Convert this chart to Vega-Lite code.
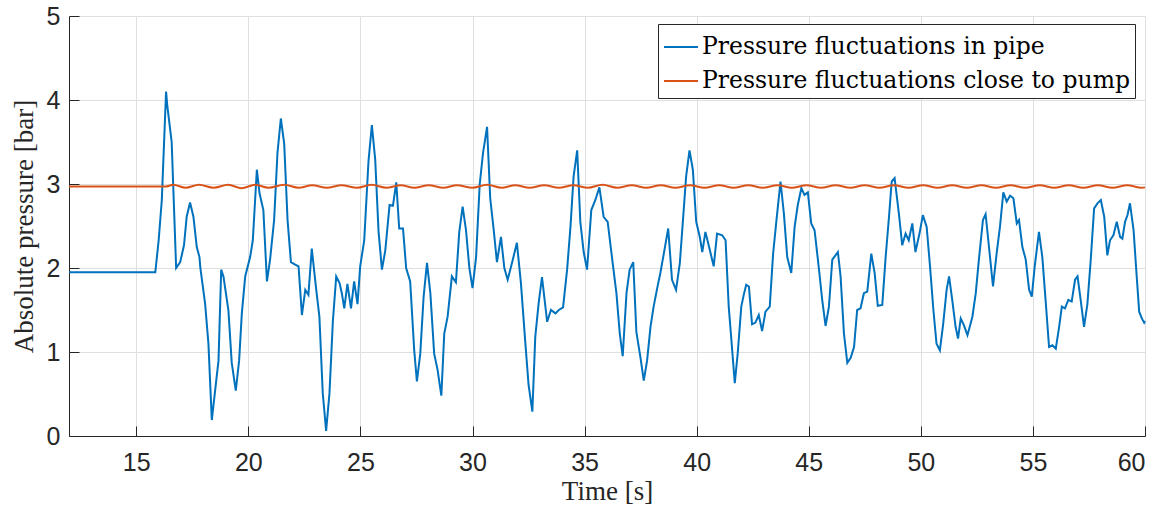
{
  "$schema": "https://vega.github.io/schema/vega-lite/v6.json",
  "autosize": "none",
  "width": 1076,
  "height": 420,
  "padding": {"left": 69, "top": 16, "right": 20, "bottom": 75},
  "background": "white",
  "config": {
    "view": {"stroke": null},
    "axis": {
      "domainColor": "#262626",
      "domainWidth": 1,
      "tickColor": "#262626",
      "tickSize": -10,
      "tickWidth": 1,
      "gridColor": "#dfdfdf",
      "gridWidth": 1,
      "labelFont": "Liberation Sans",
      "labelFontSize": 25,
      "labelColor": "#262626",
      "titleFont": "Liberation Serif",
      "titleFontSize": 27,
      "titleFontWeight": "normal",
      "titleColor": "#262626"
    }
  },
  "data": {
    "values": [
      {"t": 12, "p": 1.95, "s": "pipe"},
      {"t": 15.85, "p": 1.95, "s": "pipe"},
      {"t": 16.0, "p": 2.33, "s": "pipe"},
      {"t": 16.14, "p": 2.81, "s": "pipe"},
      {"t": 16.33, "p": 4.10, "s": "pipe"},
      {"t": 16.39, "p": 3.92, "s": "pipe"},
      {"t": 16.58, "p": 3.50, "s": "pipe"},
      {"t": 16.78, "p": 2.0, "s": "pipe"},
      {"t": 16.96, "p": 2.07, "s": "pipe"},
      {"t": 17.13, "p": 2.27, "s": "pipe"},
      {"t": 17.25, "p": 2.61, "s": "pipe"},
      {"t": 17.4, "p": 2.78, "s": "pipe"},
      {"t": 17.55, "p": 2.61, "s": "pipe"},
      {"t": 17.7, "p": 2.25, "s": "pipe"},
      {"t": 17.82, "p": 2.13, "s": "pipe"},
      {"t": 17.86, "p": 2.0, "s": "pipe"},
      {"t": 18.07, "p": 1.58, "s": "pipe"},
      {"t": 18.22, "p": 1.10, "s": "pipe"},
      {"t": 18.37, "p": 0.19, "s": "pipe"},
      {"t": 18.67, "p": 0.90, "s": "pipe"},
      {"t": 18.79, "p": 1.98, "s": "pipe"},
      {"t": 18.89, "p": 1.90, "s": "pipe"},
      {"t": 19.11, "p": 1.5, "s": "pipe"},
      {"t": 19.26, "p": 0.87, "s": "pipe"},
      {"t": 19.44, "p": 0.54, "s": "pipe"},
      {"t": 19.59, "p": 0.90, "s": "pipe"},
      {"t": 19.71, "p": 1.46, "s": "pipe"},
      {"t": 19.86, "p": 1.90, "s": "pipe"},
      {"t": 20.08, "p": 2.13, "s": "pipe"},
      {"t": 20.2, "p": 2.33, "s": "pipe"},
      {"t": 20.38, "p": 3.17, "s": "pipe"},
      {"t": 20.5, "p": 2.89, "s": "pipe"},
      {"t": 20.67, "p": 2.69, "s": "pipe"},
      {"t": 20.83, "p": 1.84, "s": "pipe"},
      {"t": 20.97, "p": 2.10, "s": "pipe"},
      {"t": 21.15, "p": 2.57, "s": "pipe"},
      {"t": 21.3, "p": 3.37, "s": "pipe"},
      {"t": 21.45, "p": 3.78, "s": "pipe"},
      {"t": 21.6, "p": 3.48, "s": "pipe"},
      {"t": 21.75, "p": 2.57, "s": "pipe"},
      {"t": 21.9, "p": 2.07, "s": "pipe"},
      {"t": 22.09, "p": 2.04, "s": "pipe"},
      {"t": 22.24, "p": 2.02, "s": "pipe"},
      {"t": 22.39, "p": 1.44, "s": "pipe"},
      {"t": 22.54, "p": 1.74, "s": "pipe"},
      {"t": 22.68, "p": 1.68, "s": "pipe"},
      {"t": 22.83, "p": 2.23, "s": "pipe"},
      {"t": 23.03, "p": 1.74, "s": "pipe"},
      {"t": 23.17, "p": 1.42, "s": "pipe"},
      {"t": 23.32, "p": 0.51, "s": "pipe"},
      {"t": 23.47, "p": 0.06, "s": "pipe"},
      {"t": 23.62, "p": 0.51, "s": "pipe"},
      {"t": 23.77, "p": 1.36, "s": "pipe"},
      {"t": 23.92, "p": 1.90, "s": "pipe"},
      {"t": 24.07, "p": 1.82, "s": "pipe"},
      {"t": 24.17, "p": 1.70, "s": "pipe"},
      {"t": 24.28, "p": 1.52, "s": "pipe"},
      {"t": 24.42, "p": 1.81, "s": "pipe"},
      {"t": 24.58, "p": 1.52, "s": "pipe"},
      {"t": 24.72, "p": 1.84, "s": "pipe"},
      {"t": 24.87, "p": 1.57, "s": "pipe"},
      {"t": 24.99, "p": 2.02, "s": "pipe"},
      {"t": 25.17, "p": 2.33, "s": "pipe"},
      {"t": 25.36, "p": 3.27, "s": "pipe"},
      {"t": 25.51, "p": 3.70, "s": "pipe"},
      {"t": 25.66, "p": 3.29, "s": "pipe"},
      {"t": 25.81, "p": 2.43, "s": "pipe"},
      {"t": 25.96, "p": 1.98, "s": "pipe"},
      {"t": 26.11, "p": 2.21, "s": "pipe"},
      {"t": 26.18, "p": 2.41, "s": "pipe"},
      {"t": 26.3, "p": 2.75, "s": "pipe"},
      {"t": 26.45, "p": 2.74, "s": "pipe"},
      {"t": 26.6, "p": 3.02, "s": "pipe"},
      {"t": 26.73, "p": 2.47, "s": "pipe"},
      {"t": 26.9, "p": 2.47, "s": "pipe"},
      {"t": 27.04, "p": 2.0, "s": "pipe"},
      {"t": 27.22, "p": 1.84, "s": "pipe"},
      {"t": 27.4, "p": 1.02, "s": "pipe"},
      {"t": 27.52, "p": 0.65, "s": "pipe"},
      {"t": 27.67, "p": 0.98, "s": "pipe"},
      {"t": 27.82, "p": 1.66, "s": "pipe"},
      {"t": 27.97, "p": 2.06, "s": "pipe"},
      {"t": 28.12, "p": 1.70, "s": "pipe"},
      {"t": 28.29, "p": 0.98, "s": "pipe"},
      {"t": 28.44, "p": 0.79, "s": "pipe"},
      {"t": 28.61, "p": 0.48, "s": "pipe"},
      {"t": 28.74, "p": 1.22, "s": "pipe"},
      {"t": 28.89, "p": 1.42, "s": "pipe"},
      {"t": 29.08, "p": 1.90, "s": "pipe"},
      {"t": 29.26, "p": 1.83, "s": "pipe"},
      {"t": 29.41, "p": 2.43, "s": "pipe"},
      {"t": 29.56, "p": 2.73, "s": "pipe"},
      {"t": 29.71, "p": 2.45, "s": "pipe"},
      {"t": 29.86, "p": 2.0, "s": "pipe"},
      {"t": 30.0, "p": 1.76, "s": "pipe"},
      {"t": 30.16, "p": 2.13, "s": "pipe"},
      {"t": 30.32, "p": 2.99, "s": "pipe"},
      {"t": 30.47, "p": 3.37, "s": "pipe"},
      {"t": 30.65, "p": 3.68, "s": "pipe"},
      {"t": 30.79, "p": 2.83, "s": "pipe"},
      {"t": 30.94, "p": 2.47, "s": "pipe"},
      {"t": 31.09, "p": 2.07, "s": "pipe"},
      {"t": 31.27, "p": 2.37, "s": "pipe"},
      {"t": 31.42, "p": 2.0, "s": "pipe"},
      {"t": 31.57, "p": 1.86, "s": "pipe"},
      {"t": 31.8, "p": 2.10, "s": "pipe"},
      {"t": 31.98, "p": 2.30, "s": "pipe"},
      {"t": 32.16, "p": 1.82, "s": "pipe"},
      {"t": 32.36, "p": 1.10, "s": "pipe"},
      {"t": 32.5, "p": 0.61, "s": "pipe"},
      {"t": 32.67, "p": 0.29, "s": "pipe"},
      {"t": 32.8, "p": 1.18, "s": "pipe"},
      {"t": 32.95, "p": 1.58, "s": "pipe"},
      {"t": 33.1, "p": 1.89, "s": "pipe"},
      {"t": 33.33, "p": 1.36, "s": "pipe"},
      {"t": 33.5, "p": 1.5, "s": "pipe"},
      {"t": 33.7, "p": 1.46, "s": "pipe"},
      {"t": 33.85, "p": 1.5, "s": "pipe"},
      {"t": 34.04, "p": 1.53, "s": "pipe"},
      {"t": 34.22, "p": 1.98, "s": "pipe"},
      {"t": 34.37, "p": 2.49, "s": "pipe"},
      {"t": 34.51, "p": 3.09, "s": "pipe"},
      {"t": 34.67, "p": 3.40, "s": "pipe"},
      {"t": 34.81, "p": 2.55, "s": "pipe"},
      {"t": 34.96, "p": 2.19, "s": "pipe"},
      {"t": 35.11, "p": 1.98, "s": "pipe"},
      {"t": 35.3, "p": 2.69, "s": "pipe"},
      {"t": 35.48, "p": 2.81, "s": "pipe"},
      {"t": 35.66, "p": 2.96, "s": "pipe"},
      {"t": 35.85, "p": 2.61, "s": "pipe"},
      {"t": 36.03, "p": 2.55, "s": "pipe"},
      {"t": 36.23, "p": 2.11, "s": "pipe"},
      {"t": 36.42, "p": 1.70, "s": "pipe"},
      {"t": 36.57, "p": 1.22, "s": "pipe"},
      {"t": 36.7, "p": 0.95, "s": "pipe"},
      {"t": 36.87, "p": 1.70, "s": "pipe"},
      {"t": 37.01, "p": 1.98, "s": "pipe"},
      {"t": 37.17, "p": 2.07, "s": "pipe"},
      {"t": 37.31, "p": 1.24, "s": "pipe"},
      {"t": 37.49, "p": 0.94, "s": "pipe"},
      {"t": 37.64, "p": 0.66, "s": "pipe"},
      {"t": 37.79, "p": 0.90, "s": "pipe"},
      {"t": 37.94, "p": 1.30, "s": "pipe"},
      {"t": 38.08, "p": 1.54, "s": "pipe"},
      {"t": 38.24, "p": 1.76, "s": "pipe"},
      {"t": 38.38, "p": 1.94, "s": "pipe"},
      {"t": 38.56, "p": 2.21, "s": "pipe"},
      {"t": 38.73, "p": 2.47, "s": "pipe"},
      {"t": 38.9, "p": 1.86, "s": "pipe"},
      {"t": 39.08, "p": 1.74, "s": "pipe"},
      {"t": 39.25, "p": 2.06, "s": "pipe"},
      {"t": 39.4, "p": 2.61, "s": "pipe"},
      {"t": 39.53, "p": 3.09, "s": "pipe"},
      {"t": 39.68, "p": 3.40, "s": "pipe"},
      {"t": 39.83, "p": 3.17, "s": "pipe"},
      {"t": 39.98, "p": 2.55, "s": "pipe"},
      {"t": 40.14, "p": 2.37, "s": "pipe"},
      {"t": 40.25, "p": 2.19, "s": "pipe"},
      {"t": 40.39, "p": 2.43, "s": "pipe"},
      {"t": 40.59, "p": 2.21, "s": "pipe"},
      {"t": 40.76, "p": 2.02, "s": "pipe"},
      {"t": 40.91, "p": 2.41, "s": "pipe"},
      {"t": 41.14, "p": 2.39, "s": "pipe"},
      {"t": 41.29, "p": 2.33, "s": "pipe"},
      {"t": 41.43, "p": 1.54, "s": "pipe"},
      {"t": 41.55, "p": 1.14, "s": "pipe"},
      {"t": 41.7, "p": 0.63, "s": "pipe"},
      {"t": 41.83, "p": 0.98, "s": "pipe"},
      {"t": 41.99, "p": 1.54, "s": "pipe"},
      {"t": 42.1, "p": 1.68, "s": "pipe"},
      {"t": 42.21, "p": 1.80, "s": "pipe"},
      {"t": 42.33, "p": 1.78, "s": "pipe"},
      {"t": 42.47, "p": 1.33, "s": "pipe"},
      {"t": 42.62, "p": 1.35, "s": "pipe"},
      {"t": 42.77, "p": 1.44, "s": "pipe"},
      {"t": 42.92, "p": 1.25, "s": "pipe"},
      {"t": 43.07, "p": 1.48, "s": "pipe"},
      {"t": 43.26, "p": 1.54, "s": "pipe"},
      {"t": 43.41, "p": 2.17, "s": "pipe"},
      {"t": 43.56, "p": 2.57, "s": "pipe"},
      {"t": 43.74, "p": 3.03, "s": "pipe"},
      {"t": 43.89, "p": 2.65, "s": "pipe"},
      {"t": 44.04, "p": 2.13, "s": "pipe"},
      {"t": 44.22, "p": 1.94, "s": "pipe"},
      {"t": 44.37, "p": 2.49, "s": "pipe"},
      {"t": 44.51, "p": 2.75, "s": "pipe"},
      {"t": 44.67, "p": 2.95, "s": "pipe"},
      {"t": 44.81, "p": 2.87, "s": "pipe"},
      {"t": 44.96, "p": 2.90, "s": "pipe"},
      {"t": 45.11, "p": 2.53, "s": "pipe"},
      {"t": 45.26, "p": 2.45, "s": "pipe"},
      {"t": 45.45, "p": 2.0, "s": "pipe"},
      {"t": 45.6, "p": 1.62, "s": "pipe"},
      {"t": 45.75, "p": 1.31, "s": "pipe"},
      {"t": 45.9, "p": 1.54, "s": "pipe"},
      {"t": 46.05, "p": 2.10, "s": "pipe"},
      {"t": 46.19, "p": 2.15, "s": "pipe"},
      {"t": 46.3, "p": 2.19, "s": "pipe"},
      {"t": 46.42, "p": 1.90, "s": "pipe"},
      {"t": 46.57, "p": 1.22, "s": "pipe"},
      {"t": 46.72, "p": 0.87, "s": "pipe"},
      {"t": 46.87, "p": 0.93, "s": "pipe"},
      {"t": 47.02, "p": 1.06, "s": "pipe"},
      {"t": 47.16, "p": 1.50, "s": "pipe"},
      {"t": 47.31, "p": 1.52, "s": "pipe"},
      {"t": 47.46, "p": 1.70, "s": "pipe"},
      {"t": 47.61, "p": 1.72, "s": "pipe"},
      {"t": 47.79, "p": 2.17, "s": "pipe"},
      {"t": 47.94, "p": 1.94, "s": "pipe"},
      {"t": 48.08, "p": 1.55, "s": "pipe"},
      {"t": 48.28, "p": 1.56, "s": "pipe"},
      {"t": 48.43, "p": 2.13, "s": "pipe"},
      {"t": 48.58, "p": 2.61, "s": "pipe"},
      {"t": 48.7, "p": 3.03, "s": "pipe"},
      {"t": 48.83, "p": 3.07, "s": "pipe"},
      {"t": 49.02, "p": 2.65, "s": "pipe"},
      {"t": 49.17, "p": 2.27, "s": "pipe"},
      {"t": 49.32, "p": 2.41, "s": "pipe"},
      {"t": 49.46, "p": 2.33, "s": "pipe"},
      {"t": 49.62, "p": 2.53, "s": "pipe"},
      {"t": 49.76, "p": 2.19, "s": "pipe"},
      {"t": 49.94, "p": 2.41, "s": "pipe"},
      {"t": 50.09, "p": 2.63, "s": "pipe"},
      {"t": 50.26, "p": 2.49, "s": "pipe"},
      {"t": 50.41, "p": 2.02, "s": "pipe"},
      {"t": 50.56, "p": 1.50, "s": "pipe"},
      {"t": 50.7, "p": 1.10, "s": "pipe"},
      {"t": 50.85, "p": 1.02, "s": "pipe"},
      {"t": 51.0, "p": 1.34, "s": "pipe"},
      {"t": 51.15, "p": 1.74, "s": "pipe"},
      {"t": 51.26, "p": 1.90, "s": "pipe"},
      {"t": 51.4, "p": 1.62, "s": "pipe"},
      {"t": 51.55, "p": 1.30, "s": "pipe"},
      {"t": 51.66, "p": 1.16, "s": "pipe"},
      {"t": 51.78, "p": 1.40, "s": "pipe"},
      {"t": 51.92, "p": 1.32, "s": "pipe"},
      {"t": 52.08, "p": 1.20, "s": "pipe"},
      {"t": 52.3, "p": 1.42, "s": "pipe"},
      {"t": 52.45, "p": 1.70, "s": "pipe"},
      {"t": 52.59, "p": 2.10, "s": "pipe"},
      {"t": 52.77, "p": 2.57, "s": "pipe"},
      {"t": 52.89, "p": 2.64, "s": "pipe"},
      {"t": 53.04, "p": 2.25, "s": "pipe"},
      {"t": 53.22, "p": 1.78, "s": "pipe"},
      {"t": 53.38, "p": 2.17, "s": "pipe"},
      {"t": 53.53, "p": 2.49, "s": "pipe"},
      {"t": 53.68, "p": 2.90, "s": "pipe"},
      {"t": 53.83, "p": 2.79, "s": "pipe"},
      {"t": 53.98, "p": 2.86, "s": "pipe"},
      {"t": 54.13, "p": 2.83, "s": "pipe"},
      {"t": 54.28, "p": 2.53, "s": "pipe"},
      {"t": 54.38, "p": 2.57, "s": "pipe"},
      {"t": 54.53, "p": 2.25, "s": "pipe"},
      {"t": 54.68, "p": 2.10, "s": "pipe"},
      {"t": 54.83, "p": 1.74, "s": "pipe"},
      {"t": 54.95, "p": 1.66, "s": "pipe"},
      {"t": 55.08, "p": 2.02, "s": "pipe"},
      {"t": 55.27, "p": 2.43, "s": "pipe"},
      {"t": 55.42, "p": 2.13, "s": "pipe"},
      {"t": 55.57, "p": 1.60, "s": "pipe"},
      {"t": 55.72, "p": 1.06, "s": "pipe"},
      {"t": 55.87, "p": 1.08, "s": "pipe"},
      {"t": 56.02, "p": 1.04, "s": "pipe"},
      {"t": 56.17, "p": 1.30, "s": "pipe"},
      {"t": 56.29, "p": 1.54, "s": "pipe"},
      {"t": 56.43, "p": 1.52, "s": "pipe"},
      {"t": 56.58, "p": 1.62, "s": "pipe"},
      {"t": 56.73, "p": 1.60, "s": "pipe"},
      {"t": 56.88, "p": 1.86, "s": "pipe"},
      {"t": 56.99, "p": 1.90, "s": "pipe"},
      {"t": 57.13, "p": 1.62, "s": "pipe"},
      {"t": 57.28, "p": 1.30, "s": "pipe"},
      {"t": 57.43, "p": 1.57, "s": "pipe"},
      {"t": 57.58, "p": 2.10, "s": "pipe"},
      {"t": 57.73, "p": 2.71, "s": "pipe"},
      {"t": 57.88, "p": 2.77, "s": "pipe"},
      {"t": 58.03, "p": 2.81, "s": "pipe"},
      {"t": 58.18, "p": 2.61, "s": "pipe"},
      {"t": 58.32, "p": 2.15, "s": "pipe"},
      {"t": 58.44, "p": 2.33, "s": "pipe"},
      {"t": 58.59, "p": 2.39, "s": "pipe"},
      {"t": 58.74, "p": 2.55, "s": "pipe"},
      {"t": 58.89, "p": 2.37, "s": "pipe"},
      {"t": 58.99, "p": 2.35, "s": "pipe"},
      {"t": 59.11, "p": 2.55, "s": "pipe"},
      {"t": 59.22, "p": 2.63, "s": "pipe"},
      {"t": 59.33, "p": 2.77, "s": "pipe"},
      {"t": 59.49, "p": 2.45, "s": "pipe"},
      {"t": 59.63, "p": 1.90, "s": "pipe"},
      {"t": 59.74, "p": 1.48, "s": "pipe"},
      {"t": 59.86, "p": 1.40, "s": "pipe"},
      {"t": 59.96, "p": 1.35, "s": "pipe"},
      {"t": 60.0, "p": 1.37, "s": "pipe"},

      {"t": 12, "p": 2.97, "s": "pump"},
      {"t": 16.3, "p": 2.97, "s": "pump"},
      {"t": 16.65, "p": 2.99, "s": "pump"},
      {"t": 17.2, "p": 2.955, "s": "pump"},
      {"t": 17.8, "p": 2.99, "s": "pump"},
      {"t": 18.45, "p": 2.955, "s": "pump"},
      {"t": 19.1, "p": 2.99, "s": "pump"},
      {"t": 19.7, "p": 2.95, "s": "pump"},
      {"t": 20.3, "p": 2.99, "s": "pump"},
      {"t": 20.9, "p": 2.955, "s": "pump"},
      {"t": 21.6, "p": 2.99, "s": "pump"},
      {"t": 22.25, "p": 2.955, "s": "pump"},
      {"t": 22.85, "p": 2.985, "s": "pump"},
      {"t": 23.5, "p": 2.955, "s": "pump"},
      {"t": 24.15, "p": 2.985, "s": "pump"},
      {"t": 24.85, "p": 2.955, "s": "pump"},
      {"t": 25.5, "p": 2.99, "s": "pump"},
      {"t": 26.15, "p": 2.955, "s": "pump"},
      {"t": 26.8, "p": 2.985, "s": "pump"},
      {"t": 27.4, "p": 2.955, "s": "pump"},
      {"t": 28.05, "p": 2.985, "s": "pump"},
      {"t": 28.7, "p": 2.955, "s": "pump"},
      {"t": 29.3, "p": 2.985, "s": "pump"},
      {"t": 30.0, "p": 2.955, "s": "pump"},
      {"t": 30.65, "p": 2.99, "s": "pump"},
      {"t": 31.3, "p": 2.955, "s": "pump"},
      {"t": 31.9, "p": 2.985, "s": "pump"},
      {"t": 32.55, "p": 2.955, "s": "pump"},
      {"t": 33.2, "p": 2.985, "s": "pump"},
      {"t": 33.85, "p": 2.955, "s": "pump"},
      {"t": 34.5, "p": 2.985, "s": "pump"},
      {"t": 35.15, "p": 2.955, "s": "pump"},
      {"t": 35.8, "p": 2.99, "s": "pump"},
      {"t": 36.45, "p": 2.955, "s": "pump"},
      {"t": 37.1, "p": 2.985, "s": "pump"},
      {"t": 37.75, "p": 2.955, "s": "pump"},
      {"t": 38.4, "p": 2.985, "s": "pump"},
      {"t": 39.05, "p": 2.955, "s": "pump"},
      {"t": 39.7, "p": 2.985, "s": "pump"},
      {"t": 40.35, "p": 2.955, "s": "pump"},
      {"t": 41.0, "p": 2.985, "s": "pump"},
      {"t": 41.65, "p": 2.955, "s": "pump"},
      {"t": 42.3, "p": 2.985, "s": "pump"},
      {"t": 42.95, "p": 2.955, "s": "pump"},
      {"t": 43.6, "p": 2.985, "s": "pump"},
      {"t": 44.25, "p": 2.955, "s": "pump"},
      {"t": 44.9, "p": 2.985, "s": "pump"},
      {"t": 45.55, "p": 2.955, "s": "pump"},
      {"t": 46.2, "p": 2.985, "s": "pump"},
      {"t": 46.85, "p": 2.955, "s": "pump"},
      {"t": 47.5, "p": 2.985, "s": "pump"},
      {"t": 48.15, "p": 2.955, "s": "pump"},
      {"t": 48.8, "p": 2.985, "s": "pump"},
      {"t": 49.45, "p": 2.955, "s": "pump"},
      {"t": 50.1, "p": 2.985, "s": "pump"},
      {"t": 50.75, "p": 2.955, "s": "pump"},
      {"t": 51.4, "p": 2.985, "s": "pump"},
      {"t": 52.05, "p": 2.955, "s": "pump"},
      {"t": 52.7, "p": 2.985, "s": "pump"},
      {"t": 53.35, "p": 2.955, "s": "pump"},
      {"t": 54.0, "p": 2.985, "s": "pump"},
      {"t": 54.65, "p": 2.955, "s": "pump"},
      {"t": 55.3, "p": 2.985, "s": "pump"},
      {"t": 55.95, "p": 2.955, "s": "pump"},
      {"t": 56.6, "p": 2.985, "s": "pump"},
      {"t": 57.25, "p": 2.955, "s": "pump"},
      {"t": 57.9, "p": 2.985, "s": "pump"},
      {"t": 58.55, "p": 2.955, "s": "pump"},
      {"t": 59.2, "p": 2.985, "s": "pump"},
      {"t": 59.85, "p": 2.955, "s": "pump"},
      {"t": 60.0, "p": 2.96, "s": "pump"}
    ]
  },
  "encoding": {
    "x": {
      "field": "t",
      "type": "quantitative",
      "scale": {"domain": [12, 60], "nice": false, "zero": false},
      "axis": {
        "title": "Time [s]",
        "values": [15, 20, 25, 30, 35, 40, 45, 50, 55, 60],
        "labelPadding": 24,
        "titlePadding": 3
      }
    },
    "y": {
      "field": "p",
      "type": "quantitative",
      "scale": {"domain": [0, 5], "nice": false},
      "axis": {
        "title": "Absolute pressure [bar]",
        "values": [0, 1, 2, 3, 4, 5],
        "labelPadding": 19,
        "titlePadding": 8
      }
    },
    "color": {
      "field": "s",
      "type": "nominal",
      "scale": {"domain": ["pipe", "pump"], "range": ["#0072BD", "#D95319"]},
      "legend": {
        "title": null,
        "orient": "none",
        "legendX": 589,
        "legendY": 8,
        "labelExpr": "datum.value == 'pipe' ? 'Pressure fluctuations in pipe' : 'Pressure fluctuations close to pump'",
        "symbolType": "stroke",
        "symbolSize": 1156,
        "symbolStrokeWidth": 2,
        "symbolOffset": 0,
        "labelFont": "DejaVu Serif",
        "labelFontSize": 23.5,
        "labelColor": "#000000",
        "labelLimit": 0,
        "labelOffset": 3,
        "strokeColor": "#262626",
        "fillColor": "white",
        "padding": 5,
        "rowPadding": 4
      }
    }
  },
  "layer": [
    {
      "transform": [{"filter": "datum.s == 'pipe'"}],
      "mark": {"type": "line", "strokeWidth": 2, "interpolate": "linear"}
    },
    {
      "transform": [{"filter": "datum.s == 'pump'"}],
      "mark": {"type": "line", "strokeWidth": 2, "interpolate": "monotone"}
    }
  ]
}
